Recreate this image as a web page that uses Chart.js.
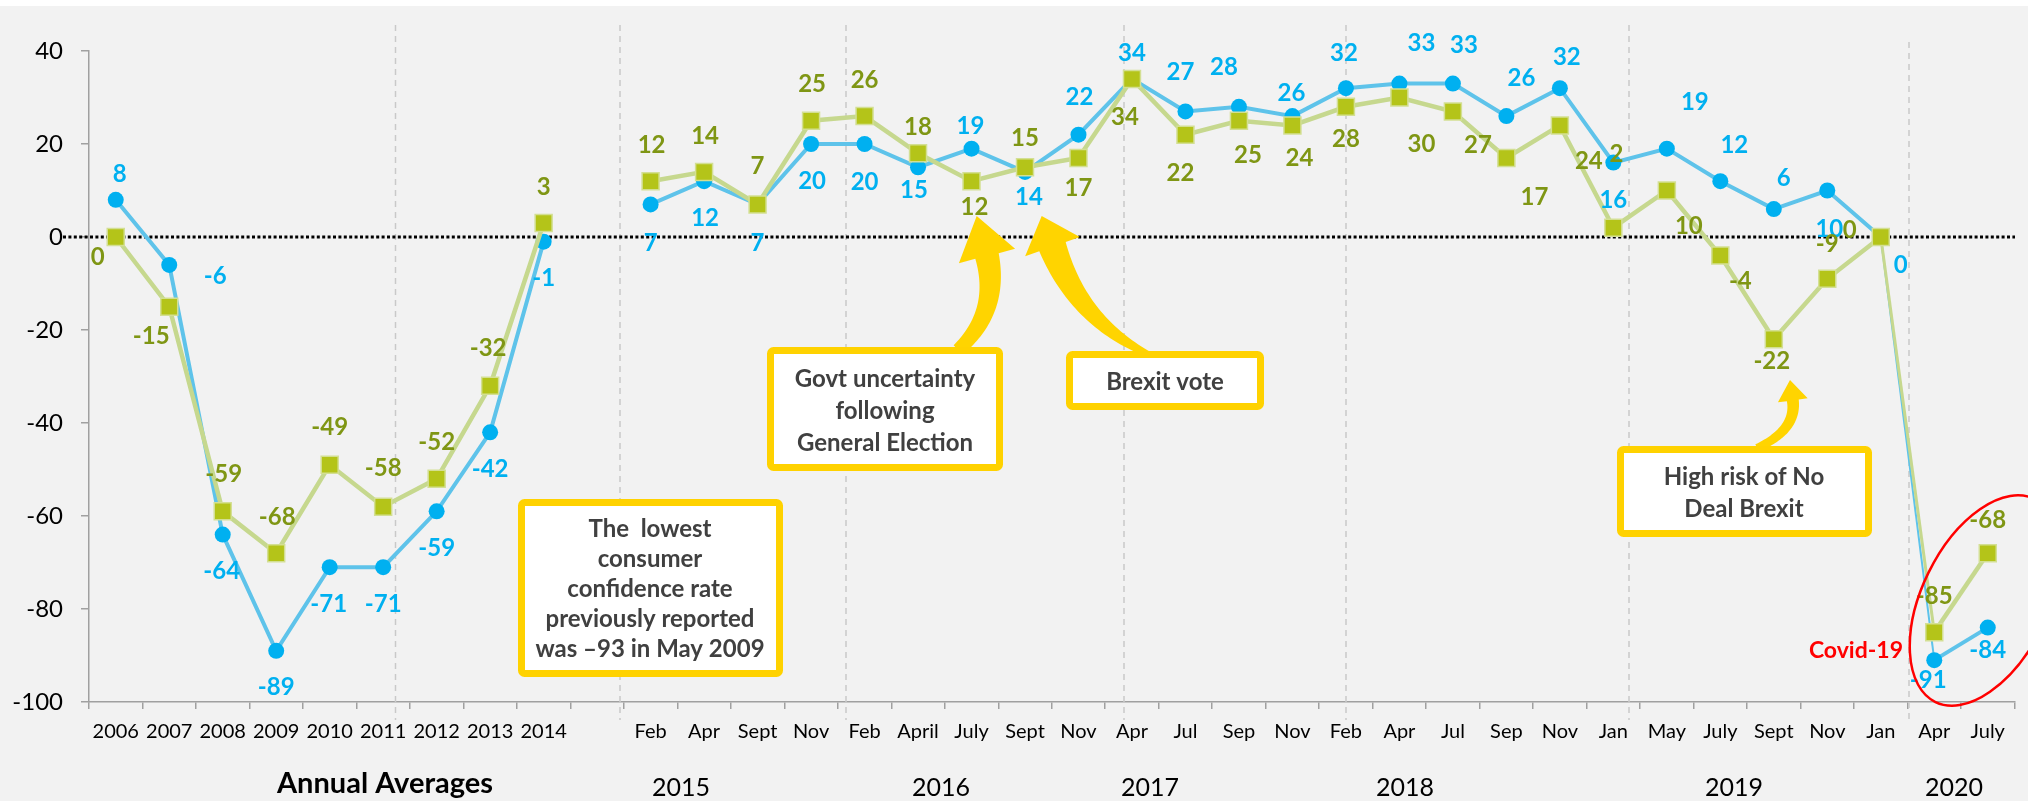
<!DOCTYPE html>
<html>
<head>
<meta charset="utf-8">
<script src="https://cdn.jsdelivr.net/npm/chart.js@4.4.0/dist/chart.umd.min.js"></script>
<style>
  html, body { margin:0; padding:0; background:#ffffff; }
  #wrap { width:2028px; height:801px; }
</style>
</head>
<body>
<div id="wrap"><canvas id="chart" width="2028" height="801"></canvas></div>
<script>
// --- données ---
const categories = ['2006','2007','2008','2009','2010','2011','2012','2013','2014','',
  'Feb','Apr','Sept','Nov',
  'Feb','April','July','Sept','Nov',
  'Apr','Jul','Sep','Nov',
  'Feb','Apr','Jul','Sep','Nov',
  'Jan','May','July','Sept','Nov',
  'Jan','Apr','July'];
const blueValues = [8,-6,-64,-89,-71,-71,-59,-42,-1,null,
  7,12,7,20,
  20,15,19,14,22,
  34,27,28,26,
  32,33,33,26,32,
  16,19,12,6,10,
  0,-91,-84];
const greenValues = [0,-15,-59,-68,-49,-58,-52,-32,3,null,
  12,14,7,25,
  26,18,12,15,17,
  34,22,25,24,
  28,30,27,17,24,
  2,10,-4,-22,-9,
  0,-85,-68];
const yTicks = [40,20,0,-20,-40,-60,-80,-100];
const groupLabels = ['Annual Averages','2015','2016','2017','2018','2019','2020'];

// --- mise en page (pixels) ---
const groupX = [385,681,941,1150,1405,1734,1954];
const separatorX = [395.5,620,846,1124,1346,1629,1909];
// décalage des étiquettes [dx, dy] par rapport au point
const blueLabelOffsets = [[4,-26],[46,10],[-1,36],[0,36],[-1,36],[0,36],[0,36],[0,36],[0,36],null,
  [0,38],[1,36],[0,38],[1,36],
  [0,37],[-4,22],[-1,-23],[4,24],[1,-38],
  [0,-27],[-5,-40],[-15,-40],[-1,-24],
  [-2,-36],[22,-41],[11,-39],[15,-39],[7,-32],
  [0,37],[28,-47],[14,-37],[10,-32],[2,38],
  [20,27],[-6,19],[0,22]];
const greenLabelOffsets = [[-18,19],[-18,29],[1,-38],[1,-37],[0,-38],[0,-39],[0,-37],[-2,-38],[0,-37],null,
  [1,-37],[1,-37],[0,-39],[1,-37],
  [0,-37],[0,-27],[3,25],[0,-30],[0,29],
  [-7,37],[-5,38],[9,34],[7,32],
  [0,32],[22,46],[25,33],[28,38],[29,35],
  [3,-74],[22,35],[20,25],[-2,21],[0,-35],
  [-31,-8],[0,-37],[0,-34]];

const boxes = [
  {r:[518,499,783,677], cx:650, lines:['The  lowest','consumer','confidence rate','previously reported','was \u201393 in May 2009'], ys:[528,558,588,618,648]},
  {r:[767,347,1003,471], cx:885, lines:['Govt uncertainty','following','General Election'], ys:[378,410,442]},
  {r:[1066,351,1264,410], cx:1165, lines:['Brexit vote'], ys:[381]},
  {r:[1617,446,1872,537], cx:1744, lines:['High risk of No','Deal Brexit'], ys:[476,508]}
];
const arrows = [
  {tail:[958,350], ctrl:[1000,312], base:[987,256], tip:[976.7,216], w0:13, w1:24, headW:29},
  {tail:[1150,355], ctrl:[1079,322], base:[1052.5,246.7], tip:[1041.7,216], w0:6, w1:28, headW:29},
  {tail:[1757,448], ctrl:[1797,430], base:[1792.8,400.3], tip:[1790,380], w0:8, w1:12, headW:15}
];

const FONT = 'Lato, "Open Sans", sans-serif';

function drawText(ctx, txt, x, yc, size, weight, color, align){
  ctx.font = weight + ' ' + size + 'px ' + FONT;
  ctx.fillStyle = color;
  ctx.textAlign = align || 'center';
  ctx.textBaseline = 'alphabetic';
  ctx.fillText(txt, x, yc + size*0.36);
}

function drawArrow(ctx, a){
  const N = 40, L = [], R = [];
  for(let k=0;k<=N;k++){
    const t = k/N, u = 1-t;
    const x = u*u*a.tail[0] + 2*u*t*a.ctrl[0] + t*t*a.base[0];
    const y = u*u*a.tail[1] + 2*u*t*a.ctrl[1] + t*t*a.base[1];
    const dx = 2*u*(a.ctrl[0]-a.tail[0]) + 2*t*(a.base[0]-a.ctrl[0]);
    const dy = 2*u*(a.ctrl[1]-a.tail[1]) + 2*t*(a.base[1]-a.ctrl[1]);
    const len = Math.hypot(dx,dy), nx = -dy/len, ny = dx/len;
    const w = (a.w0 + (a.w1-a.w0)*t)/2;
    L.push([x+nx*w, y+ny*w]); R.push([x-nx*w, y-ny*w]);
  }
  const hx = a.tip[0]-a.base[0], hy = a.tip[1]-a.base[1], hl = Math.hypot(hx,hy);
  const hnx = -hy/hl, hny = hx/hl;
  ctx.beginPath();
  ctx.moveTo(L[0][0], L[0][1]);
  L.forEach(p => ctx.lineTo(p[0], p[1]));
  ctx.lineTo(a.base[0]+hnx*a.headW, a.base[1]+hny*a.headW);
  ctx.lineTo(a.tip[0], a.tip[1]);
  ctx.lineTo(a.base[0]-hnx*a.headW, a.base[1]-hny*a.headW);
  for(let k=N;k>=0;k--) ctx.lineTo(R[k][0], R[k][1]);
  ctx.closePath();
  ctx.fill();
}

// fond gris + séparateurs + ligne du zéro
const backPlugin = {
  id:'back',
  beforeDraw(chart){
    const ctx = chart.ctx;
    ctx.save();
    ctx.fillStyle = '#ffffff';
    ctx.fillRect(0,0,chart.width,chart.height);
    ctx.fillStyle = '#f2f2f2';
    ctx.fillRect(0,6,chart.width,chart.height-6);
    ctx.restore();
  },
  beforeDatasetsDraw(chart){
    const ctx = chart.ctx, y = chart.scales.y;
    ctx.save();
    ctx.strokeStyle = '#c9c9c9';
    ctx.lineWidth = 1.5;
    ctx.setLineDash([6,5]);
    separatorX.forEach((x,i) => {
      ctx.beginPath();
      ctx.moveTo(x, i === separatorX.length-1 ? 42 : 25);
      ctx.lineTo(x, 720);
      ctx.stroke();
    });
    const y0 = y.getPixelForValue(0);
    ctx.strokeStyle = '#000000';
    ctx.lineWidth = 3;
    ctx.setLineDash([3,2.4]);
    ctx.beginPath();
    ctx.moveTo(63, y0);
    ctx.lineTo(2015, y0);
    ctx.stroke();
    ctx.restore();
  }
};

// étiquettes + annotations
const labelPlugin = {
  id:'labels',
  afterDatasetsDraw(chart){
    const ctx = chart.ctx;
    ctx.save();
    // flèches jaunes
    ctx.fillStyle = '#ffd400';
    arrows.forEach(a => drawArrow(ctx, a));
    // encadrés
    boxes.forEach(b => {
      const [x1,y1,x2,y2] = b.r;
      ctx.beginPath();
      ctx.roundRect(x1+3.5, y1+3.5, x2-x1-7, y2-y1-7, 3);
      ctx.fillStyle = '#ffffff';
      ctx.fill();
      ctx.lineWidth = 7;
      ctx.strokeStyle = '#ffd200';
      ctx.stroke();
      b.lines.forEach((t,i) => drawText(ctx, t, b.cx, b.ys[i], 24, 'bold', '#404040'));
    });
    // valeurs
    const sets = [[0, blueValues, blueLabelOffsets, '#00b0f0'], [1, greenValues, greenLabelOffsets, '#7f9614']];
    sets.forEach(([di, vals, offs, col]) => {
      const meta = chart.getDatasetMeta(di);
      vals.forEach((v,i) => {
        if (v === null) return;
        const p = meta.data[i];
        drawText(ctx, String(v), p.x + offs[i][0], p.y + offs[i][1], 24, 'bold', col);
      });
    });
    // Covid
    drawText(ctx, 'Covid-19', 1903, 650, 23, 'bold', '#ff0000', 'right');
    ctx.beginPath();
    ctx.ellipse(1985, 600.5, 63, 113, 26*Math.PI/180, 0, Math.PI*2);
    ctx.strokeStyle = '#ff0000';
    ctx.lineWidth = 2.5;
    ctx.stroke();
    // libellés de groupe
    groupLabels.forEach((g,i) => {
      if (i === 0) drawText(ctx, g, groupX[i], 783, 29, 'bold', '#000000');
      else drawText(ctx, g, groupX[i], 787, 25, 'normal', '#000000');
    });
    ctx.restore();
  }
};

const ctx = document.getElementById('chart').getContext('2d');
new Chart(ctx, {
  type:'line',
  data:{
    labels: categories,
    datasets:[
      {
        label:'Blue',
        data: blueValues,
        order: 2,
        borderColor:'#5ec3ea',
        borderWidth:4,
        pointStyle:'circle',
        pointRadius:8,
        pointBackgroundColor:'#00b0f0',
        pointBorderColor:'#00b0f0',
        pointBorderWidth:0,
        tension:0,
        spanGaps:false,
        segment:{ borderWidth: c => c.p1DataIndex === 34 ? 2 : 4 }
      },
      {
        label:'Green',
        data: greenValues,
        order: 1,
        borderColor:'#c6d88e',
        borderWidth:4.5,
        pointStyle:'rect',
        pointRadius:12,
        pointBackgroundColor:'#b4c419',
        pointBorderColor:'#d3df93',
        pointBorderWidth:1.5,
        tension:0,
        spanGaps:false,
        segment:{ borderWidth: c => c.p1DataIndex === 34 ? 3 : 4.5 }
      }
    ]
  },
  options:{
    responsive:false,
    animation:false,
    events:[],
    layout:{ padding:{ top:51, left:0, right:0, bottom:0 } },
    plugins:{ legend:{display:false}, tooltip:{enabled:false}, title:{display:false} },
    scales:{
      x:{
        type:'category',
        offset:true,
        grid:{ offset:true, drawOnChartArea:false, drawTicks:true, tickLength:7, color:'#a0a0a0', lineWidth:1.5 },
        border:{ color:'#a0a0a0', width:1.5 },
        ticks:{ font:{family:FONT, size:20}, color:'#000000', maxRotation:0, autoSkip:false, padding:11 },
        afterFit: s => { s.height = 99; }
      },
      y:{
        min:-100, max:40,
        grid:{ drawOnChartArea:false, drawTicks:true, tickLength:8, color:'#a0a0a0', lineWidth:1.5 },
        border:{ color:'#a0a0a0', width:1.5 },
        ticks:{ font:{family:FONT, size:24}, color:'#000000', padding:18 },
        afterBuildTicks: s => { s.ticks = yTicks.map(v => ({value:v})); },
        afterFit: s => { s.width = 89; }
      }
    }
  },
  plugins:[backPlugin, labelPlugin]
});
</script>
</body>
</html>
